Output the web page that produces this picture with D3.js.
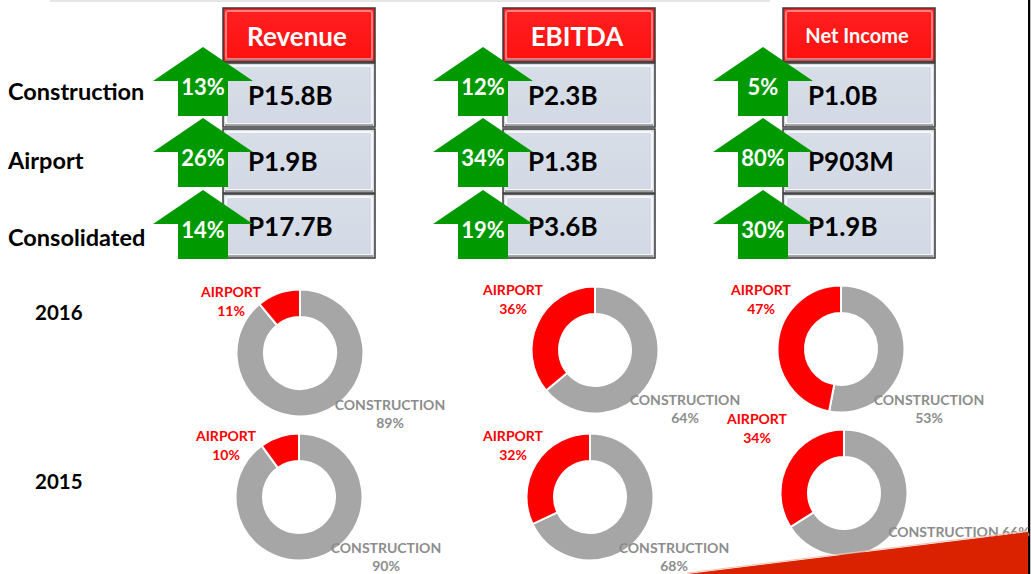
<!DOCTYPE html>
<html>
<head>
<meta charset="utf-8">
<script src="https://cdn.jsdelivr.net/npm/d3@7"></script>
<style>
  body { margin: 0; background: #fff; }
  svg { display: block; font-family: Lato, "Open Sans", sans-serif; font-weight: bold; }
</style>
</head>
<body>
<div class="chart_area"></div>
<script>
// data
var metrics = ["Revenue", "EBITDA", "Net Income"];
var segments = ["Construction", "Airport", "Consolidated"];
var values = [
  ["P15.8B", "P2.3B", "P1.0B"],
  ["P1.9B", "P1.3B", "P903M"],
  ["P17.7B", "P3.6B", "P1.9B"]
];
var growth = [
  [13, 12, 5],
  [26, 34, 80],
  [14, 19, 30]
];
var years = ["2016", "2015"];
var airport2016 = [11, 36, 47];
var airport2015 = [10, 32, 34];

var width = 1031, height = 574;

var svg = d3.select(".chart_area").append("svg")
  .attr("width", width)
  .attr("height", height);

var defs = svg.append("defs");
function bevel(id, c1, c2) {
  var g = defs.append("linearGradient").attr("id", id)
    .attr("x1", 0).attr("y1", 0).attr("x2", 0).attr("y2", 1);
  g.append("stop").attr("offset", "0%").attr("stop-color", c1);
  g.append("stop").attr("offset", "100%").attr("stop-color", c2);
}
bevel("redg", "#ff2020", "#ff1010");
bevel("blueg", "#d8dee8", "#d2d9e4");

// slide chrome
svg.append("rect").attr("x", 50).attr("y", 0).attr("width", 720).attr("height", 2).attr("fill", "#e6e6e6");
svg.append("rect").attr("x", 1028).attr("y", 0).attr("width", 2).attr("height", height).attr("fill", "#000");
svg.append("rect").attr("x", 1030).attr("y", 0).attr("width", 1).attr("height", height).attr("fill", "#bbb");

// scales for the table
var colX = d3.scaleOrdinal().domain(metrics).range([223, 503, 783]);
var boxW = 152;
var rowY = d3.scaleOrdinal().domain(segments).range([63, 129, 194]);
var rowH = 64;
var arrowTop = d3.scaleOrdinal().domain(segments).range([47, 118, 190]);
var labelY = d3.scaleOrdinal().domain(segments).range([91, 160, 237]);

function box(g, x, y, w, h, fill, rim) {
  g.append("rect").attr("x", x).attr("y", y).attr("width", w).attr("height", h)
    .attr("fill", fill).attr("stroke", "#3a3a3a").attr("stroke-width", 1.5);
  g.append("rect").attr("x", x + 3).attr("y", y + 3).attr("width", w - 6).attr("height", h - 6)
    .attr("fill", "none").attr("stroke", rim).attr("stroke-width", 2).attr("rx", 2);
  g.append("line").attr("x1", x + 2).attr("x2", x + w - 2).attr("y1", y + h - 2).attr("y2", y + h - 2)
    .attr("stroke", "#888").attr("stroke-width", 2).attr("opacity", 0.7);
}

var table = svg.append("g").attr("class", "table");

metrics.forEach(function (m, j) {
  var x = colX(m);
  box(table, x, 8, boxW, 54, "url(#redg)", "rgba(255,150,150,0.8)");
  table.append("text")
    .attr("x", x + boxW / 2 - 2).attr("y", m == "Net Income" ? 35 : 36)
    .attr("text-anchor", "middle").attr("dominant-baseline", "central")
    .attr("fill", "#fff")
    .attr("font-size", m == "Net Income" ? 20 : 26)
    .text(m);

  segments.forEach(function (s, i) {
    var y = rowY(s);
    box(table, x, y, boxW, rowH, "url(#blueg)", "rgba(255,255,255,0.75)");
    table.append("text")
      .attr("x", x + 25).attr("y", y + rowH / 2)
      .attr("dominant-baseline", "central")
      .attr("fill", "#000").attr("font-size", 26)
      .text(values[i][j]);
  });
});

// arrows drawn on top of the boxes
segments.forEach(function (s, i) {
  metrics.forEach(function (m, j) {
    var cx = colX(m) - 20, t = arrowTop(s);
    var pts = [[cx, t], [cx + 50, t + 34], [cx + 25, t + 34], [cx + 25, t + 69],
               [cx - 25, t + 69], [cx - 25, t + 34], [cx - 50, t + 34]];
    table.append("path").attr("d", d3.line()(pts) + "Z").attr("fill", "#009a00");
    table.append("text")
      .attr("x", cx).attr("y", t + 39)
      .attr("text-anchor", "middle").attr("dominant-baseline", "central")
      .attr("fill", "#fff").attr("font-size", 22)
      .text(growth[i][j] + "%");
  });
  table.append("text")
    .attr("x", 8).attr("y", labelY(s))
    .attr("dominant-baseline", "central")
    .attr("fill", "#000").attr("font-size", 23.5)
    .text(s);
});

// donuts
var donutCenters = [
  [[300, 353], [595, 350], [841, 349]],
  [[299, 497], [590, 497], [844, 493]]
];
var airportLbl = [
  [[-69, -61], [-82, -60], [-80, -59]],
  [[-73, -61], [-77, -61], [-87, -74]]
];
var constLbl = [
  [[90, 52], [90, 50], [88, 51]],
  [[87, 51], [84, 51], [115, 39]]
];
var yearY = [312, 481];
var shares = [airport2016, airport2015];

var pie = d3.pie().sort(null).value(function (d) { return d.v; });
var arc = d3.arc().innerRadius(36).outerRadius(63.5);

years.forEach(function (yr, r) {
  svg.append("text").attr("x", 35).attr("y", yearY[r])
    .attr("dominant-baseline", "central").attr("font-size", 20.5).attr("fill", "#000")
    .text(yr);

  shares[r].forEach(function (a, j) {
    var c = donutCenters[r][j];
    var g = svg.append("g").attr("transform", "translate(" + c[0] + "," + c[1] + ")");
    var parts = [{ k: "CONSTRUCTION", v: 100 - a }, { k: "AIRPORT", v: a }];
    g.selectAll("path").data(pie(parts)).enter().append("path")
      .attr("d", arc)
      .attr("fill", function (d) { return d.data.k == "AIRPORT" ? "#ff0000" : "#a6a6a6"; })
      .attr("stroke", "#fff").attr("stroke-width", 2);

    var al = airportLbl[r][j];
    var at = g.append("text").attr("text-anchor", "middle").attr("fill", "#ff0000").attr("font-size", 14);
    at.append("tspan").attr("x", al[0]).attr("y", al[1] + 5).text("AIRPORT");
    at.append("tspan").attr("x", al[0]).attr("y", al[1] + 24).text(a + "%");

    var cl = constLbl[r][j];
    var ct = g.append("text").attr("text-anchor", "middle").attr("fill", "#8c8c8c").attr("font-size", 14);
    if (r == 1 && j == 2) {
      ct.append("tspan").attr("x", cl[0]).attr("y", cl[1] + 5).text("CONSTRUCTION " + (100 - a) + "%");
    } else {
      ct.append("tspan").attr("x", cl[0]).attr("y", cl[1] + 5).text("CONSTRUCTION");
      ct.append("tspan").attr("x", cl[0]).attr("y", cl[1] + 23).text((100 - a) + "%");
    }
  });
});

// red wedge at bottom right
svg.append("path")
  .attr("d", "M687,574 L1028,532 L1028,574 Z")
  .attr("fill", "#da2200");
svg.append("path")
  .attr("d", "M687,573 L1028,531")
  .attr("stroke", "#f3c0b0").attr("stroke-width", 1);
</script>
</body>
</html>
